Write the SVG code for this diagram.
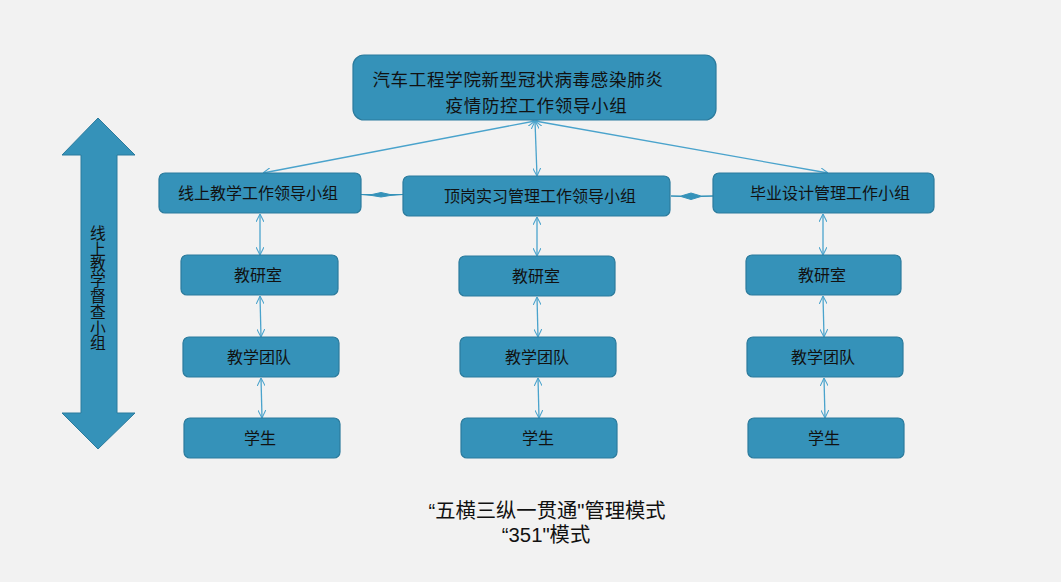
<svg xmlns="http://www.w3.org/2000/svg" width="1061" height="582" viewBox="0 0 1061 582">
<defs>
<style>
.box{fill:#3592b9;stroke:#2b7b9d;stroke-width:1.2}
.t{font-family:"Noto Sans CJK SC","Liberation Sans",sans-serif;font-size:16px;fill:#111;text-anchor:middle}
.big{font-size:17.5px;letter-spacing:0.7px}
.vert{writing-mode:vertical-rl;font-size:15.8px}
.con{stroke:#4aa3cc;stroke-width:1.3;fill:none}
.foot{font-family:"Liberation Sans","Noto Sans CJK SC",sans-serif;font-size:20.3px;fill:#111;text-anchor:middle}
</style>
<marker id="ah" viewBox="0 0 10 10" refX="10" refY="5" markerWidth="8" markerHeight="8" markerUnits="userSpaceOnUse" orient="auto-start-reverse">
<path d="M0,0 L10,5 L0,10" fill="none" stroke="#4aa3cc" stroke-width="1.3"/>
</marker>
</defs>
<rect width="1061" height="582" fill="#f2f2f2"/>

<g id="connectors">
<line class="con" x1="535" y1="121" x2="263" y2="173" marker-start="url(#ah)" marker-end="url(#ah)"/>
<line class="con" x1="535" y1="121" x2="537" y2="176" marker-start="url(#ah)" marker-end="url(#ah)"/>
<line class="con" x1="535" y1="121" x2="828" y2="173" marker-start="url(#ah)" marker-end="url(#ah)"/>
<path d="M361,194.5 L372,194.5 L381,192.5 L390,194.5 L403,194.5 L390,195.5 L381,197 L372,195.5 Z" fill="#3592b9" stroke="#3592b9" stroke-width="1"/>
<path d="M671,196 L681,196 L691,193 L701,196 L713,196 L701,196.5 L691,199.5 L681,196.5 Z" fill="#3592b9" stroke="#3592b9" stroke-width="1"/>
<line class="con" x1="260" y1="214" x2="260" y2="255" marker-start="url(#ah)" marker-end="url(#ah)"/>
<line class="con" x1="260" y1="296" x2="261" y2="337" marker-start="url(#ah)" marker-end="url(#ah)"/>
<line class="con" x1="261" y1="378" x2="262" y2="418" marker-start="url(#ah)" marker-end="url(#ah)"/>
<line class="con" x1="537" y1="217" x2="537" y2="256" marker-start="url(#ah)" marker-end="url(#ah)"/>
<line class="con" x1="537" y1="297" x2="538" y2="337" marker-start="url(#ah)" marker-end="url(#ah)"/>
<line class="con" x1="538" y1="378" x2="539" y2="418" marker-start="url(#ah)" marker-end="url(#ah)"/>
<line class="con" x1="823" y1="214" x2="823" y2="255" marker-start="url(#ah)" marker-end="url(#ah)"/>
<line class="con" x1="823" y1="296" x2="824" y2="337" marker-start="url(#ah)" marker-end="url(#ah)"/>
<line class="con" x1="824" y1="378" x2="825" y2="418" marker-start="url(#ah)" marker-end="url(#ah)"/>
</g>

<g id="supervision">
<polygon points="98,118 135,155 117,155 117,413 135,413 98,449 62,413 81,413 81,155 62,155" fill="#3592b9" stroke="#2b7b9d" stroke-width="1"/>
<text class="t vert" x="98" y="288">线上教学督查小组</text>
</g>

<g id="top">
<rect class="box" x="353" y="55" width="363" height="65" rx="11"/>
<text class="t big"><tspan x="518" y="86">汽车工程学院新型冠状病毒感染肺炎</tspan><tspan x="536.5" y="111.5">疫情防控工作领导小组</tspan></text>
</g>

<g id="online">
<rect class="box" x="159" y="173" width="202" height="40" rx="6"/>
<text class="t" x="258" y="199">线上教学工作领导小组</text>
</g>
<g id="internship">
<rect class="box" x="403" y="176" width="267" height="40" rx="6"/>
<text class="t" x="540" y="202">顶岗实习管理工作领导小组</text>
</g>
<g id="graduation">
<rect class="box" x="713" y="173" width="221" height="40" rx="6"/>
<text class="t" x="830" y="199">毕业设计管理工作小组</text>
</g>

<g id="l-jys"><rect class="box" x="181" y="255" width="157" height="40" rx="6"/><text class="t" x="258" y="281">教研室</text></g>
<g id="l-td"><rect class="box" x="183" y="337" width="156" height="40" rx="6"/><text class="t" x="259" y="363">教学团队</text></g>
<g id="l-xs"><rect class="box" x="184" y="418" width="156" height="40" rx="6"/><text class="t" x="260" y="444">学生</text></g>

<g id="m-jys"><rect class="box" x="459" y="256" width="156" height="40" rx="6"/><text class="t" x="536" y="282">教研室</text></g>
<g id="m-td"><rect class="box" x="460" y="337" width="156" height="40" rx="6"/><text class="t" x="537" y="363">教学团队</text></g>
<g id="m-xs"><rect class="box" x="461" y="418" width="156" height="40" rx="6"/><text class="t" x="538" y="444">学生</text></g>

<g id="r-jys"><rect class="box" x="746" y="255" width="155" height="40" rx="6"/><text class="t" x="822" y="281">教研室</text></g>
<g id="r-td"><rect class="box" x="747" y="337" width="156" height="40" rx="6"/><text class="t" x="823" y="363">教学团队</text></g>
<g id="r-xs"><rect class="box" x="748" y="418" width="156" height="40" rx="6"/><text class="t" x="824" y="444">学生</text></g>

<g id="caption">
<text class="foot"><tspan x="547" y="518">“五横三纵一贯通"管理模式</tspan><tspan x="546" y="542">“351"模式</tspan></text>
</g>
</svg>
